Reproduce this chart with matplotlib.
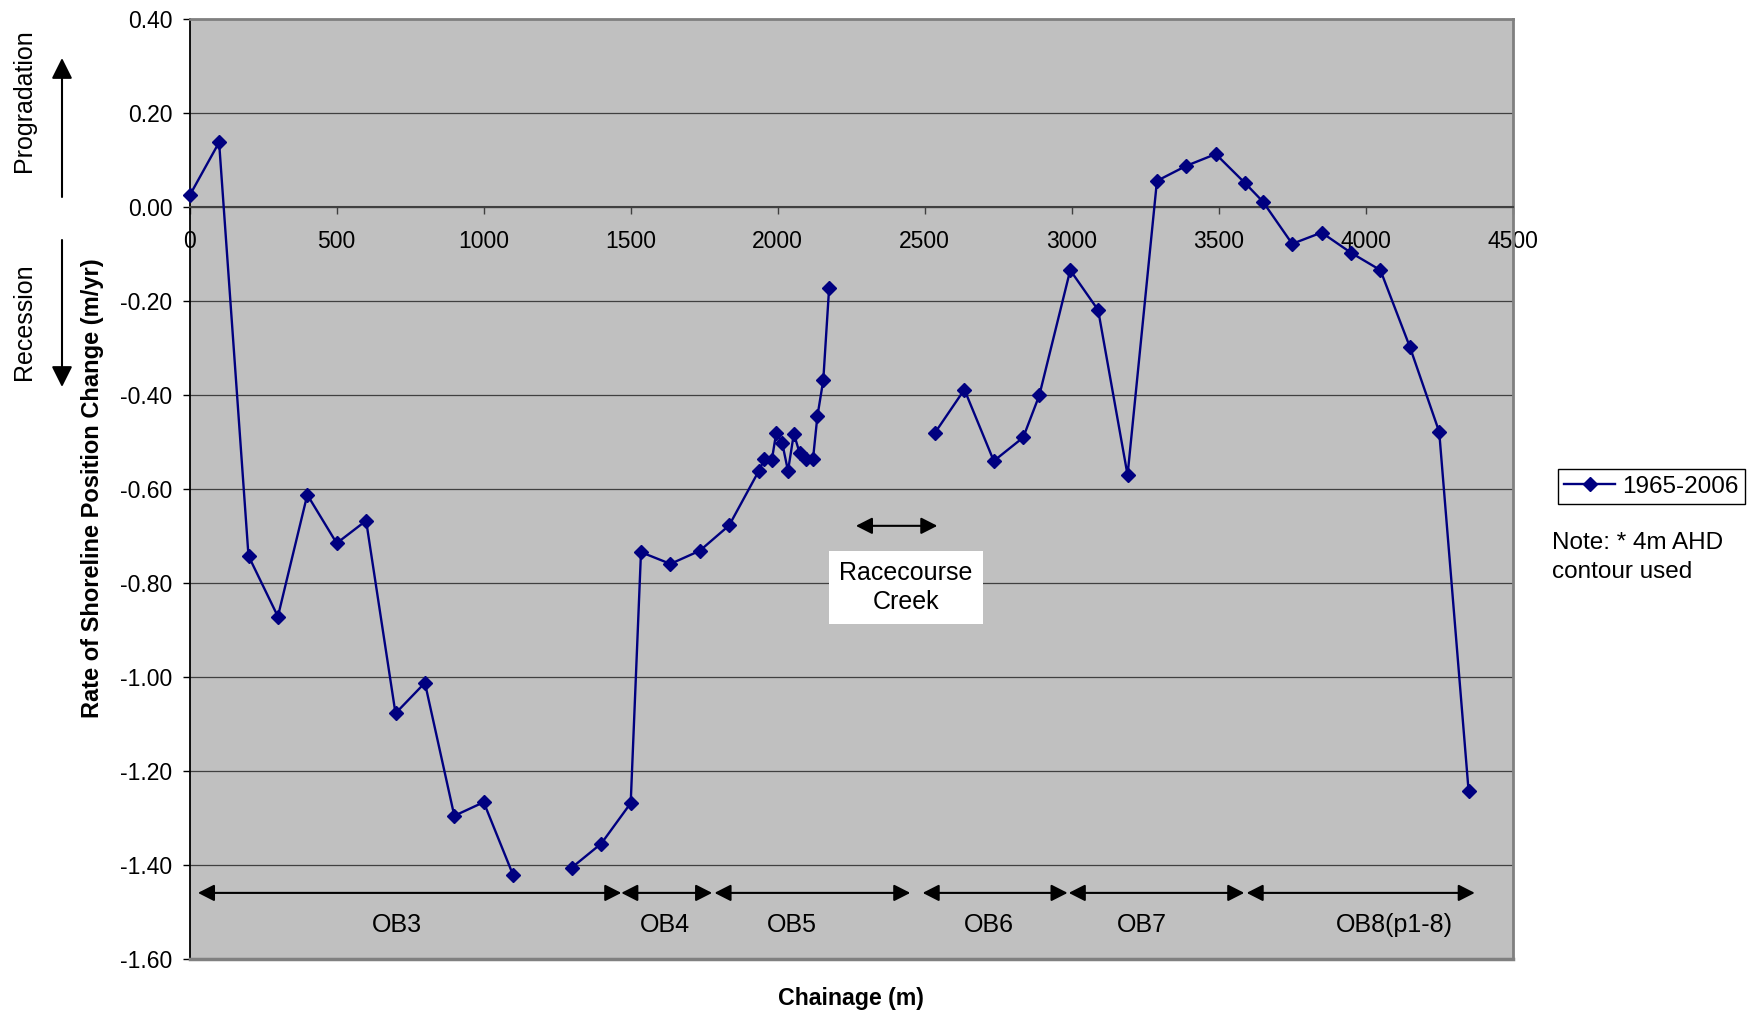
import numpy as np
import matplotlib
matplotlib.use('Agg')
import matplotlib.pyplot as plt

plt.rcParams['font.family'] = ['Liberation Sans', 'DejaVu Sans']

# chainage (m) and rate of shoreline change (m/yr); NaN = gap in the line
chainage = [0, 100, 200, 300, 400, 500, 600, 700, 800, 900, 1000, 1100, 1200,
            1300, 1400, 1500, 1535, 1635, 1735, 1835, 1935, 1955, 1980, 1995,
            2015, 2035, 2055, 2075, 2095, 2120, 2135, 2155, 2175, 2350,
            2535, 2635, 2735, 2835, 2890, 2995, 3090, 3190, 3290, 3390, 3490,
            3590, 3650, 3750, 3850, 3950, 4050, 4150, 4250, 4350]
rate = [0.024, 0.137, -0.743, -0.872, -0.613, -0.716, -0.668, -1.078, -1.013,
        -1.296, -1.267, -1.422, np.nan,
        -1.406, -1.355, -1.269, -0.735, -0.760, -0.732, -0.678, -0.563, -0.537,
        -0.539, -0.481, -0.502, -0.562, -0.483, -0.525, -0.537, -0.537, -0.446,
        -0.369, -0.172, np.nan,
        -0.481, -0.389, -0.541, -0.491, -0.401, -0.135, -0.220, -0.571, 0.055,
        0.087, 0.112, 0.050, 0.011, -0.079, -0.055, -0.098, -0.135, -0.298,
        -0.479, -1.243]
series_name = '1965-2006'

# beach units along the chainage
units = ['OB3', 'OB4', 'OB5', 'OB6', 'OB7', 'OB8(p1-8)']
unit_start = [28, 1468, 1785, 2493, 2990, 3595]
unit_end = [1468, 1777, 2451, 2986, 3587, 4371]
unit_label_x = [705, 1616, 2048, 2718, 3239, 4096]

creek_start, creek_end = 2266, 2543

x_ticks = list(range(0, 4501, 500))
y_ticks = [-1.6, -1.4, -1.2, -1.0, -0.8, -0.6, -0.4, -0.2, 0.0, 0.2, 0.4]

W, H = 1764, 1015
fig = plt.figure(figsize=(W / 100, H / 100), dpi=100)
ax = fig.add_axes([189.7 / W, 1 - 958.7 / H, 1323 / W, 940 / H])
ax.set_facecolor('#C0C0C0')
ax.set_xlim(0, 4500)
ax.set_ylim(-1.6, 0.4)

# Excel style axes: x axis crosses at zero
ax.spines['bottom'].set_position(('data', 0))
ax.spines['bottom'].set_color('#404040')
ax.spines['bottom'].set_linewidth(1.5)
ax.spines['left'].set_color('black')
ax.spines['left'].set_linewidth(1.3)
for s in ['top', 'right']:
    ax.spines[s].set_color('#808080')
    ax.spines[s].set_linewidth(2)
ax.axhline(-1.6, color='#808080', lw=2.5, clip_on=False, zorder=2.6)

ax.set_xticks(x_ticks)
ax.set_xticklabels([str(t) for t in x_ticks])
ax.set_yticks(y_ticks)
ax.set_yticklabels(['%.2f' % t for t in y_ticks])
ax.tick_params(axis='x', direction='out', length=5, width=1, color='#404040',
               labelsize=16.5, pad=12)
ax.tick_params(axis='y', direction='out', length=5, width=1, color='black',
               labelsize=16.5, pad=7.5)
ax.grid(axis='y', color='#404040', lw=0.9)
ax.set_axisbelow(True)

ax.plot(chainage, rate, color='#000080', lw=1.7, marker='D', ms=6.8,
        mec='#000080', zorder=4, clip_on=False, label=series_name)

# unit arrows and labels
for name, a, b, lx in zip(units, unit_start, unit_end, unit_label_x):
    ax.annotate('', xy=(b, -1.46), xytext=(a, -1.46),
                arrowprops=dict(arrowstyle='<|-|>,head_length=0.55,head_width=0.28',
                                color='black', lw=1.5, mutation_scale=18,
                                shrinkA=0, shrinkB=0))
    ax.text(lx, -1.528, name, fontsize=18, ha='center', va='center')

# Racecourse Creek
ax.annotate('', xy=(creek_end, -0.679), xytext=(creek_start, -0.679),
            arrowprops=dict(arrowstyle='<|-|>,head_length=0.55,head_width=0.28',
                            color='black', lw=1.5, mutation_scale=18,
                            shrinkA=0, shrinkB=0))
ax.text(2436, -0.811, 'Racecourse\nCreek', fontsize=18, ha='center', va='center',
        linespacing=1.25,
        bbox=dict(boxstyle='square,pad=0.4', fc='white', ec='none'))

# axis titles
fig.text(93 / W, 1 - 488 / H, 'Rate of Shoreline Position Change (m/yr)',
         rotation=90, ha='center', va='center', fontsize=17, fontweight='bold')
fig.text(851 / W, 1 - 998 / H, 'Chainage (m)', ha='center', va='center',
         fontsize=16.7, fontweight='bold')

# progradation / recession hints
fig.text(24 / W, 1 - 101 / H, 'Progradation', rotation=90, ha='center',
         va='center', fontsize=18)
fig.text(24 / W, 1 - 322 / H, 'Recession', rotation=90, ha='center',
         va='center', fontsize=18)
hint = dict(arrowstyle='-|>,head_length=0.7,head_width=0.35', color='black',
            lw=1.5, mutation_scale=18, shrinkA=0, shrinkB=0)
ax.annotate('', xy=(62, H - 58), xytext=(62, H - 197),
            xycoords='figure pixels', textcoords='figure pixels',
            arrowprops=hint, annotation_clip=False)
ax.annotate('', xy=(62, H - 387), xytext=(62, H - 240),
            xycoords='figure pixels', textcoords='figure pixels',
            arrowprops=hint, annotation_clip=False)

leg = ax.legend(loc='center left', bbox_to_anchor=(1558 / W, 1 - 486.5 / H),
                bbox_transform=fig.transFigure, fontsize=17.5, fancybox=False,
                edgecolor='black', framealpha=1, borderpad=0.25,
                handlelength=2.1, handletextpad=0.3, borderaxespad=0)
leg.get_frame().set_linewidth(1.0)

fig.text(1552 / W, 1 - 532 / H, 'Note: * 4m AHD\ncontour used', fontsize=17.5,
         ha='left', va='top', linespacing=1.4)

plt.savefig('out.png', dpi=100)
plt.close()
